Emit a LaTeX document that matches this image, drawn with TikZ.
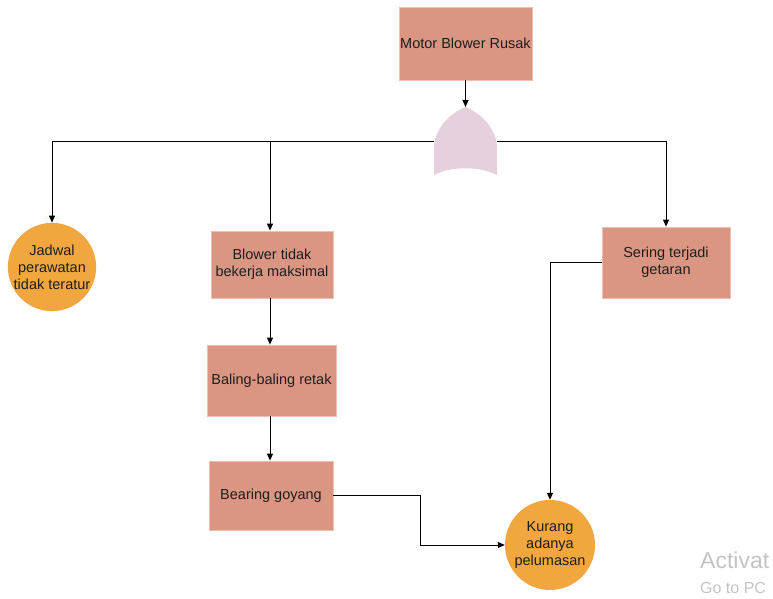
\documentclass[tikz,border=0pt]{standalone}
\usepackage{fontspec}
\setmainfont{Liberation Sans}
\usetikzlibrary{arrows.meta}
\definecolor{boxfill}{RGB}{219,150,131}
\definecolor{boxline}{RGB}{240,190,175}
\definecolor{circfill}{RGB}{242,166,64}
\definecolor{gatefill}{RGB}{230,208,222}
\definecolor{txt}{RGB}{30,30,30}
\definecolor{wm}{RGB}{195,195,195}
\tikzset{
  every node/.style={font=\fontsize{14.5}{17}\selectfont, text=txt},
  evbox/.style={draw=boxline, line width=0.8pt, fill=boxfill, inner sep=0pt, align=center},
  basic/.style={circle, fill=circfill, draw=none, inner sep=0pt, align=center},
  conn/.style={draw=black, line width=1pt, -{Triangle[length=7pt,width=6pt]}},
  plain/.style={draw=black!80, line width=1pt},
}
\begin{document}
\begin{tikzpicture}[x=1pt,y=-1pt]
\useasboundingbox (0,0) rectangle (773,599);
% nodes
\node[evbox, minimum width=133pt, minimum height=73pt] (top) at (465.5,43.5) {Motor Blower Rusak};
\node[basic, minimum size=80pt] (jadwal) at (52,267) {Jadwal\\perawatan\\tidak teratur};
\node[evbox, minimum width=122pt, minimum height=67pt] (blower) at (272,264.5) {Blower tidak\\bekerja maksimal};
\node[evbox, minimum width=129pt, minimum height=71pt] (baling) at (271.5,380.5) {Baling-baling retak};
\node[evbox, minimum width=124pt, minimum height=69pt] (bearing) at (271,495.5) {Bearing goyang};
\node[evbox, minimum width=128pt, minimum height=71pt] (sering) at (666,262.5) {Sering terjadi\\getaran};
\node[basic, minimum size=90pt] (kurang) at (550,545) {Kurang\\adanya\\pelumasan};
% OR gate
\coordinate (gtop) at (465.5,107);
\coordinate (gleft) at (434,141);
\coordinate (gright) at (497,141);
\fill[gatefill] (434,175) -- (434,146) .. controls (436,126) and (451,113) .. (gtop)
  .. controls (480,113) and (495,126) .. (497,146) -- (497,175)
  .. controls (480,166) and (451,166) .. (434,175) -- cycle;
% connectors
\draw[conn] (top.south) -- (gtop);
\draw[plain] (gleft) -- (52,141);
\draw[conn] (gleft) -| (jadwal.north);
\draw[conn] (gleft) -| ([xshift=-2pt]blower.north);
\draw[conn] (gright) -| (sering.north);
\draw[conn] ([xshift=-2pt]blower.south) -- ([xshift=-1.5pt]baling.north);
\draw[conn] ([xshift=-1.5pt]baling.south) -- ([xshift=-1pt]bearing.north);
\draw[conn] (bearing.east) -- (420,495.5) |- (kurang.west);
\draw[conn] (sering.west) -| (kurang.north);
% watermark
\node[anchor=base west, text=wm, font=\fontsize{23}{23}\selectfont, inner sep=0pt] (wm1) at (700,568) {Activat};
\node[anchor=base west, text=wm, font=\fontsize{16}{16}\selectfont, inner sep=0pt] (wm2) at (700,593) {Go to PC};
\end{tikzpicture}
\end{document}
